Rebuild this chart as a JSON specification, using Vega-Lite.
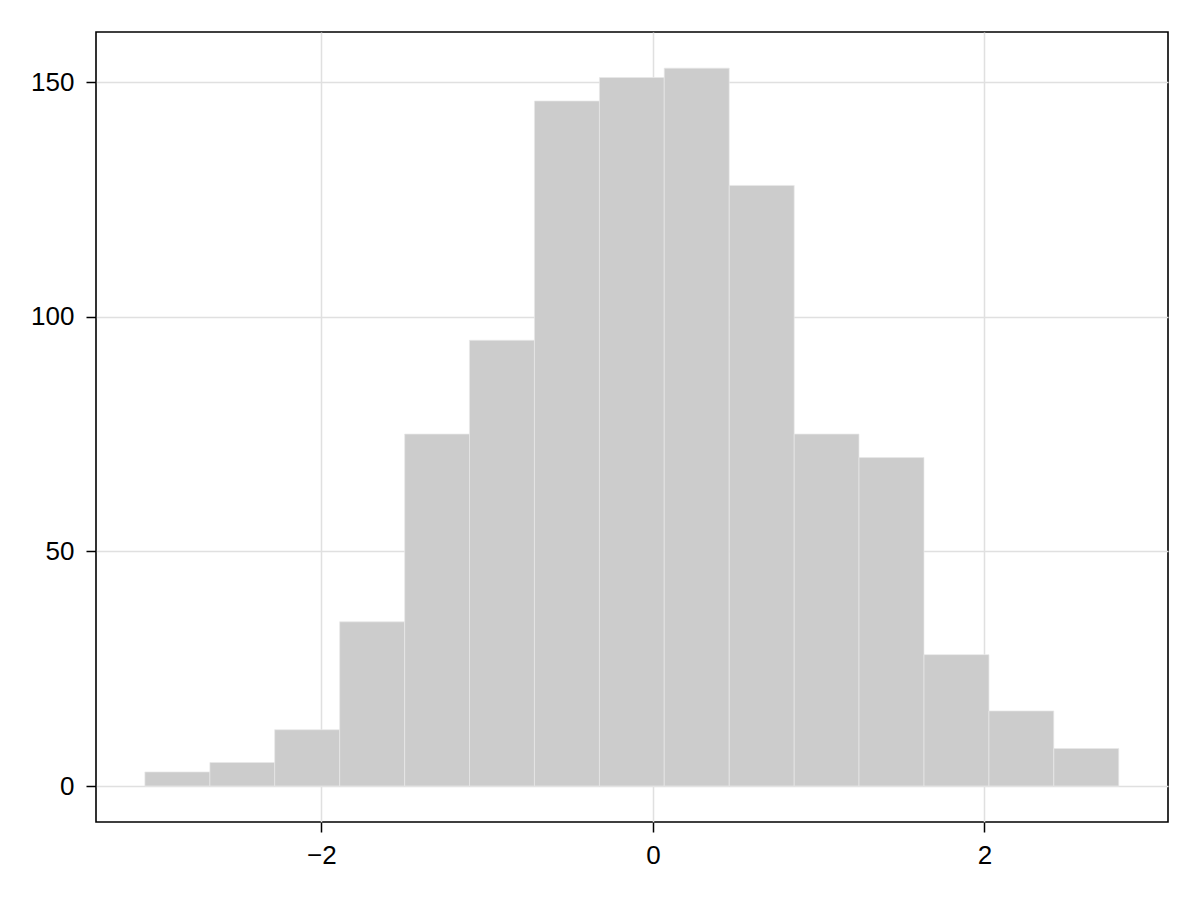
{
  "$schema": "https://vega.github.io/schema/vega-lite/v6.json",
  "width": 1072,
  "height": 790,
  "autosize": {"type": "none"},
  "padding": {"left": 96, "top": 32, "right": 32, "bottom": 78},
  "background": "white",
  "config": {
    "view": {"stroke": "black", "strokeWidth": 1.6},
    "axis": {
      "domain": false,
      "grid": true,
      "gridColor": "#e0e0e0",
      "gridWidth": 1.5,
      "ticks": true,
      "tickColor": "black",
      "tickWidth": 1.5,
      "tickSize": 10,
      "labelFont": "Liberation Sans",
      "labelFontSize": 26,
      "labelColor": "black",
      "title": null
    }
  },
  "data": {
    "values": [
      {"start": -3.065, "end": -2.673, "count": 3},
      {"start": -2.673, "end": -2.282, "count": 5},
      {"start": -2.282, "end": -1.890, "count": 12},
      {"start": -1.890, "end": -1.498, "count": 35},
      {"start": -1.498, "end": -1.107, "count": 75},
      {"start": -1.107, "end": -0.715, "count": 95},
      {"start": -0.715, "end": -0.323, "count": 146},
      {"start": -0.323, "end": 0.068, "count": 151},
      {"start": 0.068, "end": 0.460, "count": 153},
      {"start": 0.460, "end": 0.852, "count": 128},
      {"start": 0.852, "end": 1.243, "count": 75},
      {"start": 1.243, "end": 1.635, "count": 70},
      {"start": 1.635, "end": 2.027, "count": 28},
      {"start": 2.027, "end": 2.418, "count": 16},
      {"start": 2.418, "end": 2.810, "count": 8}
    ]
  },
  "mark": {"type": "rect", "fill": "#cccccc", "stroke": "#e8e8e8", "strokeWidth": 0.7},
  "encoding": {
    "x": {
      "field": "start",
      "type": "quantitative",
      "scale": {"domain": [-3.36, 3.107], "nice": false, "zero": false},
      "axis": {"values": [-2, 0, 2], "format": "d", "labelPadding": 10}
    },
    "x2": {"field": "end"},
    "y": {
      "field": "count",
      "type": "quantitative",
      "scale": {"domain": [-7.67, 160.7], "nice": false, "zero": false},
      "axis": {"values": [0, 50, 100, 150], "format": "d", "labelPadding": 12}
    },
    "y2": {"datum": 0}
  }
}
